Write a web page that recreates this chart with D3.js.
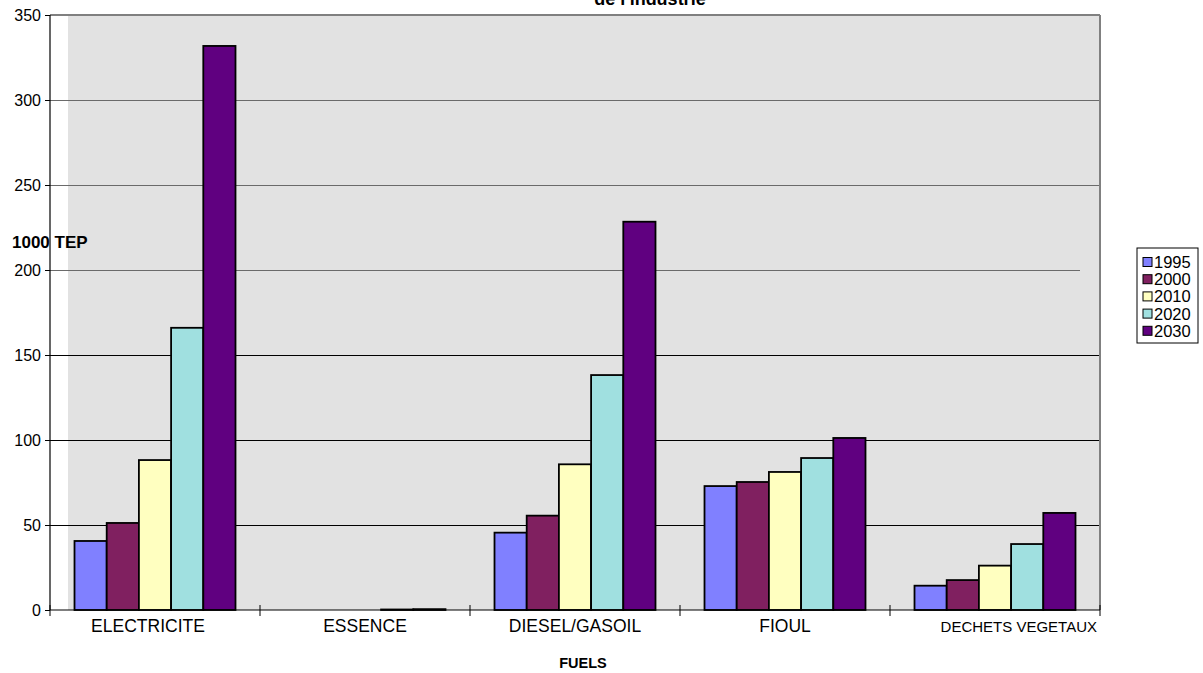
<!DOCTYPE html>
<html>
<head>
<meta charset="utf-8">
<script src="https://cdn.jsdelivr.net/npm/d3@7"></script>
<style>
  html, body { margin: 0; padding: 0; background: #fff; }
  svg { display: block; font-family: Arial, "Liberation Sans", sans-serif; }
</style>
</head>
<body>
<svg id="chart" width="1203" height="673"></svg>
<script>
// ---- data ----
const categories = ["ELECTRICITE", "ESSENCE", "DIESEL/GASOIL", "FIOUL", "DECHETS VEGETAUX"];
const years = ["1995", "2000", "2010", "2020", "2030"];
const v1995 = [40.6, 0, 45.5, 72.9, 14.3];
const v2000 = [51.2, 0, 55.5, 75.3, 17.6];
const v2010 = [88.2, 0, 85.7, 81.2, 26.1];
const v2020 = [166, 0.3, 138.2, 89.4, 38.8];
const v2030 = [331.8, 0.5, 228.4, 101.2, 57.1];
const yTicks = [0, 50, 100, 150, 200, 250, 300, 350];
const titleText = "de l'industrie";
const yUnit = "1000 TEP";
const xTitle = "FUELS";

const seriesValues = [v1995, v2000, v2010, v2020, v2030];
const colors = ["#8080ff", "#802060", "#ffffc0", "#a0e0e0", "#600080"];

const svg = d3.select("#chart");
const L = 50, R = 1100, T = 15, B = 610;

const x0 = d3.scaleBand().domain(categories).range([L, R]).padding(0);
const bw = x0.bandwidth();
const x1 = d3.scaleBand().domain(years).range([bw * 0.1167, bw * (1 - 0.1167)]).padding(0);
const y = d3.scaleLinear().domain([0, 350]).range([B, T]);

// plot background
svg.append("rect").attr("x", L + 18).attr("y", T).attr("width", R - L - 18).attr("height", B - T)
  .attr("fill", "#e2e2e2");

// gridlines
svg.append("g").selectAll("line").data(yTicks.filter(t => t > 0 && t < 350)).join("line")
  .attr("x1", L).attr("x2", d => d === 200 ? R - 20 : R)
  .attr("y1", d => y(d) + 0.5).attr("y2", d => y(d) + 0.5)
  .attr("stroke", d => d >= 200 ? "#6a6a6a" : "#000").attr("stroke-width", 1);

// top and right border
svg.append("line").attr("x1", L).attr("x2", R).attr("y1", T).attr("y2", T)
  .attr("stroke", "#808080").attr("stroke-width", 2);
svg.append("line").attr("x1", R).attr("x2", R).attr("y1", T).attr("y2", B)
  .attr("stroke", "#808080").attr("stroke-width", 2);

// bars
const rows = [];
categories.forEach((c, ci) => years.forEach((yr, si) => rows.push({ c, yr, si, v: seriesValues[si][ci] })));
svg.append("g").selectAll("rect").data(rows.filter(d => d.v > 0)).join("rect")
  .attr("x", d => x0(d.c) + x1(d.yr))
  .attr("y", d => y(d.v))
  .attr("width", x1.bandwidth())
  .attr("height", d => y(0) - y(d.v))
  .attr("fill", d => colors[d.si])
  .attr("stroke", "#000").attr("stroke-width", 1.8);

// y axis
const yAxis = d3.axisLeft(y).tickValues(yTicks).tickSize(5).tickPadding(4);
const gy = svg.append("g").attr("transform", `translate(${L},0)`).call(yAxis);
gy.select(".domain").attr("stroke", "#000").attr("stroke-width", 1.2).attr("d", `M0,${T}V${B}`);
gy.selectAll(".tick line").attr("stroke", "#000");
gy.selectAll(".tick text").attr("font-size", 16).attr("fill", "#000")
  .attr("font-family", "Arial, 'Liberation Sans', sans-serif");

// x axis
const gx = svg.append("g").attr("transform", `translate(0,${B})`);
gx.append("line").attr("x1", L).attr("x2", R).attr("y1", 0).attr("y2", 0)
  .attr("stroke", "#000").attr("stroke-width", 1.2);
const bounds = categories.map(c => x0(c)).concat([R]);
gx.selectAll("line.tk").data(bounds).join("line").attr("class", "tk")
  .attr("x1", d => d).attr("x2", d => d).attr("y1", -5).attr("y2", 6)
  .attr("stroke", "#000");
gx.selectAll("text").data(categories).join("text")
  .attr("x", (d, i) => i === categories.length - 1 ? R - 3 : x0(d) + bw / 2 - (i === 0 ? 7 : 0))
  .attr("y", 22)
  .attr("text-anchor", (d, i) => i === categories.length - 1 ? "end" : "middle")
  .attr("font-size", (d, i) => i === categories.length - 1 ? 15 : 17.5)
  .text(d => d);

// titles
svg.append("text").attr("x", 650).attr("y", 5).attr("text-anchor", "middle")
  .attr("font-weight", "bold").attr("font-size", 18).text(titleText);
svg.append("text").attr("x", 12).attr("y", 248).attr("font-weight", "bold")
  .attr("font-size", 17).text(yUnit);
svg.append("text").attr("x", 583).attr("y", 668).attr("text-anchor", "middle")
  .attr("font-weight", "bold").attr("font-size", 14.5).text(xTitle);

// legend
const lg = svg.append("g");
lg.append("rect").attr("x", 1137).attr("y", 248).attr("width", 61).attr("height", 95)
  .attr("fill", "#fff").attr("stroke", "#000").attr("stroke-width", 1);
const items = lg.selectAll("g.it").data(years).join("g").attr("class", "it")
  .attr("transform", (d, i) => `translate(1143,${262 + i * 17.2})`);
items.append("rect").attr("x", 0).attr("y", -4.5).attr("width", 9).attr("height", 9)
  .attr("fill", (d, i) => colors[i]).attr("stroke", "#000").attr("stroke-width", 1);
items.append("text").attr("x", 11).attr("y", 0).attr("dy", "0.36em")
  .attr("font-size", 16.5).text(d => d);
</script>
</body>
</html>
